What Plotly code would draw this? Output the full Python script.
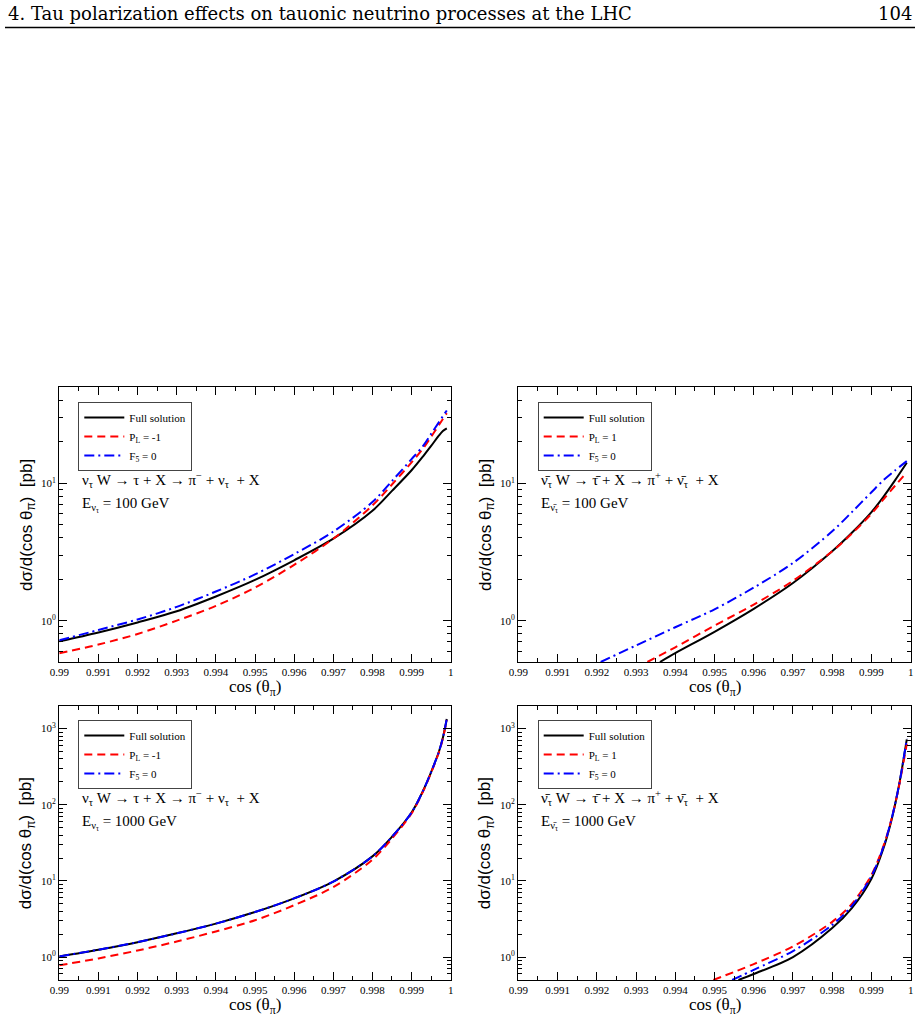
import math
import plotly.graph_objects as go

# ---------------- data ----------------
# Panel A: nu_tau, E = 100 GeV
x_a = [0.990, 0.991, 0.992, 0.993, 0.994, 0.995, 0.996, 0.997, 0.998, 0.9985, 0.999, 0.9993, 0.9995, 0.9997, 0.9998, 0.9999]
full_a = [0.707, 0.82, 0.97, 1.17, 1.5, 1.98, 2.75, 3.95, 6.31, 8.81, 12.45, 15.8, 18.7, 22.3, 24.0, 25.1]
pl_a = [0.58, 0.67, 0.80, 1.0, 1.28, 1.74, 2.55, 3.95, 6.9, 9.8, 14.2, 18.0, 21.8, 26.6, 29.4, 32.4]
f5_a = [0.72, 0.855, 1.02, 1.26, 1.63, 2.17, 3.05, 4.45, 7.3, 10.4, 15.0, 18.8, 22.9, 27.9, 30.8, 33.9]

# Panel B: anti-nu_tau, E = 100 GeV
x_b_full = [0.99361, 0.994, 0.995, 0.996, 0.997, 0.998, 0.9985, 0.999, 0.9993, 0.9996, 0.9999]
full_b = [0.5, 0.58, 0.83, 1.22, 1.88, 3.2, 4.36, 6.17, 7.94, 10.5, 14.1]
x_b_pl = [0.99329, 0.994, 0.995, 0.996, 0.997, 0.998, 0.9985, 0.999, 0.9993, 0.9996, 0.9999]
pl_b = [0.5, 0.64, 0.92, 1.31, 1.95, 3.2, 4.3, 6.0, 7.6, 9.6, 12.0]
x_b_f5 = [0.9921, 0.993, 0.994, 0.995, 0.996, 0.997, 0.998, 0.9985, 0.999, 0.9993, 0.9996, 0.9999]
f5_b = [0.5, 0.66, 0.895, 1.21, 1.74, 2.63, 4.47, 6.17, 8.61, 10.5, 12.4, 14.5]

# Panel C: nu_tau, E = 1000 GeV
x_c = [0.990, 0.991, 0.992, 0.993, 0.994, 0.995, 0.996, 0.997, 0.998, 0.9985, 0.999, 0.9993, 0.9995, 0.9997, 0.9998, 0.9999]
full_c = [1.02, 1.25, 1.57, 2.05, 2.75, 3.9, 5.9, 9.8, 21, 38, 79, 155, 269, 500, 760, 1340]
pl_c = [0.78, 0.96, 1.22, 1.6, 2.17, 3.05, 4.8, 8.3, 19, 36, 77, 152, 265, 490, 745, 1300]
f5_c = [1.02, 1.25, 1.57, 2.05, 2.75, 3.9, 5.9, 9.8, 21, 38, 79, 155, 270, 500, 760, 1340]

# Panel D: anti-nu_tau, E = 1000 GeV
x_d_full = [0.99561, 0.996, 0.997, 0.998, 0.9985, 0.999, 0.9993, 0.9995, 0.9997, 0.9999]
full_d = [0.5, 0.6, 1.0, 2.4, 4.4, 10.7, 26.3, 60, 178, 724]
x_d_pl = [0.99497, 0.996, 0.997, 0.998, 0.9985, 0.999, 0.9993, 0.9995, 0.9997, 0.9999]
pl_d = [0.5, 0.81, 1.38, 2.9, 5.0, 12.0, 28.2, 61.7, 174, 631]
x_d_f5 = [0.99545, 0.996, 0.997, 0.998, 0.9985, 0.999, 0.9993, 0.9995, 0.9997, 0.9999]
f5_d = [0.5, 0.68, 1.2, 2.65, 4.7, 11.6, 27.5, 61.7, 178, 741]

# tick labels
x_tickvals = [0.99, 0.991, 0.992, 0.993, 0.994, 0.995, 0.996, 0.997, 0.998, 0.999, 1.0]
x_ticktext = ["0.99", "0.991", "0.992", "0.993", "0.994", "0.995", "0.996", "0.997", "0.998", "0.999", "1"]
y_tickvals = [1, 10, 100, 1000]
y_ticktext = ["10<sup>0</sup>", "10<sup>1</sup>", "10<sup>2</sup>", "10<sup>3</sup>"]
y_minor = [m * 10 ** e for e in range(-1, 4) for m in range(2, 10)]

legend_names_nu = ["Full solution", "P<sub>L</sub> = -1", "F<sub>5</sub> = 0"]
legend_names_nubar = ["Full solution", "P<sub>L</sub> = 1", "F<sub>5</sub> = 0"]

reaction_nu = "ν<sub>τ</sub> W → τ + X → π<sup>−</sup> + ν<sub>τ</sub>  + X"
reaction_nubar = "ν\u0304<sub>τ</sub> W → τ\u0304 + X → π<sup>+</sup> + ν\u0304<sub>τ</sub>  + X"
energy_nu_100 = "E<sub>ν<sub>τ</sub></sub> = 100 GeV"
energy_nubar_100 = "E<sub>ν\u0304<sub>τ</sub></sub> = 100 GeV"
energy_nu_1000 = "E<sub>ν<sub>τ</sub></sub> = 1000 GeV"
energy_nubar_1000 = "E<sub>ν\u0304<sub>τ</sub></sub> = 1000 GeV"

header_text = "4. Tau polarization effects on tauonic neutrino processes at the LHC"
page_number = "104"

# ---------------- layout geometry (pixels of a 920x1021 page) ----------------
W, H = 920, 1021
SERIF = "Liberation Serif"
SANS = "Liberation Sans"


def px(x):
    return x / W


def py(y):
    return 1 - y / H


panels = [
    dict(xr=(59.3, 450.7), yr=(387.3, 662.0), ymax=50,
         series=[(x_a, full_a), (x_a, pl_a), (x_a, f5_a)], names=legend_names_nu,
         reaction=reaction_nu, energy=energy_nu_100, leg=(78.3, 402.0),
         ty=(480, 505)),
    dict(xr=(518.3, 910.7), yr=(387.3, 662.0), ymax=50,
         series=[(x_b_full, full_b), (x_b_pl, pl_b), (x_b_f5, f5_b)], names=legend_names_nubar,
         reaction=reaction_nubar, energy=energy_nubar_100, leg=(537.7, 402.0),
         ty=(480, 505)),
    dict(xr=(59.3, 450.7), yr=(705.7, 980.0), ymax=2000,
         series=[(x_c, full_c), (x_c, pl_c), (x_c, f5_c)], names=legend_names_nu,
         reaction=reaction_nu, energy=energy_nu_1000, leg=(78.3, 720.0),
         ty=(798, 823)),
    dict(xr=(518.3, 910.7), yr=(705.7, 980.0), ymax=2000,
         series=[(x_d_full, full_d), (x_d_pl, pl_d), (x_d_f5, f5_d)], names=legend_names_nubar,
         reaction=reaction_nubar, energy=energy_nubar_1000, leg=(537.7, 720.0),
         ty=(798, 823)),
]

styles = [
    dict(color="#000000", width=2, dash="solid"),
    dict(color="#ff0000", width=2, dash="8px,5px"),
    dict(color="#0000ff", width=2, dash="10px,4px,2px,4px"),
]

fig = go.Figure()
layout = dict(
    width=W, height=H,
    margin=dict(l=0, r=0, t=0, b=0, autoexpand=False),
    paper_bgcolor="white", plot_bgcolor="white",
    showlegend=True,
)
annotations = []

for i, p in enumerate(panels):
    k = "" if i == 0 else str(i + 1)
    xa, ya = "x" + k, "y" + k
    legname = "legend" + k
    for (xs, ys), st, nm in zip(p["series"], styles, p["names"]):
        fig.add_trace(go.Scatter(
            x=xs, y=ys, mode="lines", name=nm,
            line=dict(color=st["color"], width=st["width"], dash=st["dash"],
                      shape="spline", smoothing=0.9),
            xaxis=xa, yaxis=ya, legend=legname, cliponaxis=True,
        ))
    x0, x1 = p["xr"]
    y0, y1 = p["yr"]
    layout["xaxis" + k] = dict(
        domain=[px(x0), px(x1)], anchor=ya, range=[0.99, 1.0], automargin=False,
        tickmode="array", tickvals=x_tickvals, ticktext=x_ticktext,
        ticks="inside", ticklen=8, tickwidth=1, tickcolor="black",
        showline=True, linecolor="black", linewidth=1.3, mirror="allticks",
        showgrid=False, zeroline=False,
        tickfont=dict(family=SERIF, size=11, color="black"),
        minor=dict(tick0=0.99, dtick=0.0005, ticks="inside", ticklen=4,
                   tickwidth=1, tickcolor="black", showgrid=False),
    )
    layout["yaxis" + k] = dict(
        domain=[py(y1), py(y0)], anchor=xa, type="log", automargin=False,
        range=[math.log10(0.5), math.log10(p["ymax"])],
        tickmode="array", tickvals=y_tickvals, ticktext=y_ticktext,
        ticks="inside", ticklen=8, tickwidth=1, tickcolor="black",
        showline=True, linecolor="black", linewidth=1.3, mirror="allticks",
        showgrid=False, zeroline=False,
        tickfont=dict(family=SERIF, size=11, color="black"),
        minor=dict(tickvals=y_minor, ticks="inside", ticklen=4,
                   tickwidth=1, tickcolor="black", showgrid=False),
    )
    lx, ly = p["leg"]
    layout[legname] = dict(
        x=px(lx), y=py(ly), xanchor="left", yanchor="top",
        bordercolor="#444444", borderwidth=1, bgcolor="rgba(255,255,255,0)",
        font=dict(family=SERIF, size=11, color="black"),
        tracegroupgap=0, itemwidth=40,
    )
    # reaction and energy labels
    annotations.append(dict(text=p["reaction"], x=px(x0 + 21), y=py(p["ty"][0]),
                            xref="paper", yref="paper", xanchor="left", yanchor="middle",
                            showarrow=False, font=dict(family=SERIF, size=15, color="black")))
    annotations.append(dict(text=p["energy"], x=px(x0 + 21), y=py(p["ty"][1]),
                            xref="paper", yref="paper", xanchor="left", yanchor="middle",
                            showarrow=False, font=dict(family=SERIF, size=15, color="black")))
    # axis titles
    annotations.append(dict(text="cos (θ<sub>π</sub>)", x=px((x0 + x1) / 2), y=py(y1 + 26),
                            xref="paper", yref="paper", xanchor="center", yanchor="middle",
                            showarrow=False, font=dict(family=SERIF, size=17, color="black")))
    annotations.append(dict(text="dσ/d(cos θ<sub>π</sub>)  [pb]", x=px(x0 - 32), y=py((y0 + y1) / 2),
                            xref="paper", yref="paper", xanchor="center", yanchor="middle",
                            textangle=-90, showarrow=False,
                            font=dict(family=SANS, size=17, color="black")))

# page header
annotations.append(dict(text=header_text,
                        x=px(6), y=py(13), xref="paper", yref="paper", xanchor="left",
                        yanchor="middle", showarrow=False,
                        font=dict(family="DejaVu Serif", size=18, color="black")))
annotations.append(dict(text=page_number, x=px(914), y=py(13), xref="paper", yref="paper",
                        xanchor="right", yanchor="middle", showarrow=False,
                        font=dict(family="DejaVu Serif", size=18, color="black")))
layout["annotations"] = annotations
layout["shapes"] = [dict(type="line", xref="paper", yref="paper", x0=px(5), x1=px(915),
                         y0=py(27.5), y1=py(27.5), line=dict(color="black", width=1.5))]

fig.update_layout(**layout)
fig.write_html("out.html")
